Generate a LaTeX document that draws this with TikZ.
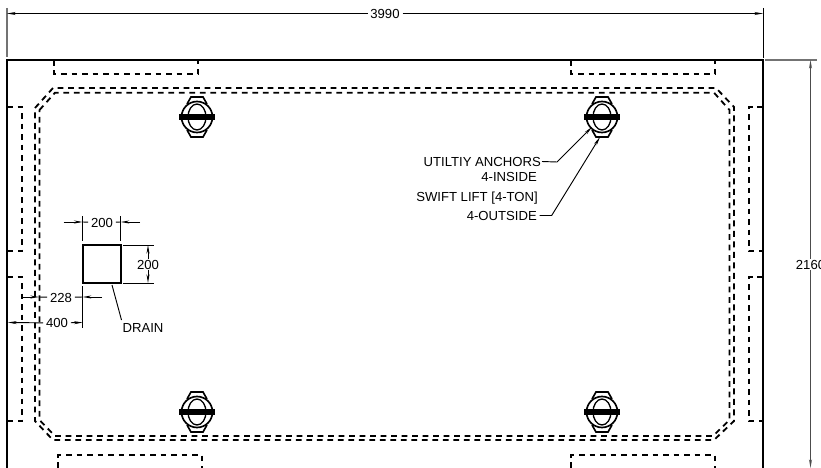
\documentclass[tikz,border=0pt]{standalone}
\usepackage{fontspec}
\setmainfont{Liberation Sans}
\usetikzlibrary{arrows.meta,positioning}
\tikzset{
  wall/.style={line width=0.65mm},
  hidden/.style={line width=0.55mm, dash pattern=on 1.75mm off 1.4mm},
  dimline/.style={line width=0.28mm},
  extline/.style={line width=0.28mm},
  farline/.style={line width=0.4mm, black!55},
  dimarrow/.style={line width=0.28mm, -{Stealth[length=2.6mm,width=0.9mm]}},
  label/.style={font=\fontsize{11.2}{13}\selectfont, inner sep=0pt},
  dimlabel/.style={label, fill=white, inner xsep=0.8mm, inner ysep=0.3mm}
}
\begin{document}
\begin{tikzpicture}[x=0.3mm, y=-0.3mm]
	\useasboundingbox (0,0) rectangle (821,468);

	% slab edge and pockets
	\draw[wall] (7,468) -- (7,60) -- (763,60) -- (763,468);
	\draw[hidden] (54,60) -- (54,74) -- (198,74) -- (198,60);
	\draw[hidden] (571,60) -- (571,74) -- (715,74) -- (715,60);
	\draw[hidden] (58,468) -- (58,455) -- (202,455) -- (202,468);
	\draw[hidden] (571,468) -- (571,455) -- (715,455) -- (715,468);
	\draw[hidden] (7,107) -- (22,107) -- (22,251) -- (7,251);
	\draw[hidden] (7,277) -- (22,277) -- (22,421) -- (7,421);
	\draw[hidden] (763,107) -- (749,107) -- (749,251) -- (763,251);
	\draw[hidden] (763,277) -- (749,277) -- (749,421) -- (763,421);

	% double line inside
	\draw[hidden] (35,108) -- (53,88) -- (716,88) -- (734,107) -- (734,421) -- (714,440) -- (53,440) -- (35,421) -- cycle;
	\draw[hidden] (39.5,110) -- (55,92.7) -- (714,92.7) -- (729.5,110) -- (729.5,420) -- (713,436) -- (55,436) -- (39.5,420) -- cycle;

	% anchors
	\foreach \px/\py in {197/117, 602/117, 197/412, 602/412} {
		\begin{scope}[shift={(\px,\py)}]
			\draw[line width=0.5mm] (0,0) circle [radius=15.5];
			\draw[line width=0.4mm] (0,0) ellipse [x radius=9, y radius=13];
			\draw[line width=0.5mm] (-10,-13) -- (-6,-20) -- (6,-20) -- (10,-13);
			\draw[line width=0.5mm] (-10,13) -- (-6,20) -- (6,20) -- (10,13);
			\draw[line width=1.6mm] (-18,0) -- (18,0);
		\end{scope}
	}

	% overall dimensions
	\draw[farline] (7,8) -- (7,57);
	\draw[extline] (763,8) -- (763,58);
	\draw[farline] (765,60) -- (817,60);
	\node[dimlabel] (width) at (385,14) {3990};
	\coordinate (widthl) at (7,13.5);
	\coordinate (widthr) at (763,13.5);
	\draw[dimarrow] (width.west |- widthl) -- (widthl);
	\draw[dimarrow] (width.east |- widthr) -- (widthr);
	\node[dimlabel, inner xsep=0mm] (height) at (810.5,264.5) {2160};
	\coordinate (heightt) at (810.5,60);
	\coordinate (heightb) at (810.5,468);
	\draw[dimarrow, black!70] (height) -- (heightt);
	\draw[dimarrow, black!70] (height) -- (heightb);

	% drain
	\node[draw, line width=0.6mm, minimum size=11.4mm, inner sep=0pt] (drain) at (101.7,264) {};
	\draw[extline] (82.7,216) -- (82.7,241);
	\draw[extline] (120.7,216) -- (120.7,241);
	\draw[extline] (123,245) -- (154,245);
	\draw[extline] (123,283) -- (154,283);
	\draw[extline] (82.7,286) -- (82.7,328);

	\node[dimlabel] (drainw) at (102,222.5) {200};
	\coordinate (drainwl) at (63.5,222);
	\coordinate (drainwr) at (140,222);
	\draw[dimarrow] (drainwl) -- (82.7,222);
	\draw[dimline] (82.7,222) -- (drainw);
	\draw[dimarrow] (drainwr) -- (120.7,222);
	\draw[dimline] (120.7,222) -- (drainw);

	\node[dimlabel] (drainh) at (148,264.5) {200};
	\coordinate (drainht) at (148,245);
	\coordinate (drainhb) at (148,283);
	\draw[dimarrow] (drainh) -- (drainht);
	\draw[dimarrow] (drainh) -- (drainhb);

	\node[dimlabel] (inner) at (61,297.5) {228};
	\coordinate (innerl) at (21,297);
	\coordinate (innerr) at (102,297);
	\draw[dimarrow] (innerl) -- (39,297);
	\draw[dimline] (39,297) -- (inner);
	\draw[dimarrow] (innerr) -- (82.7,297);
	\draw[dimline] (82.7,297) -- (inner);

	\node[dimlabel] (outer) at (57,323) {400};
	\coordinate (outerl) at (8,322.5);
	\coordinate (outerr) at (82.7,322.5);
	\draw[dimarrow] (outer) -- (outerl);
	\draw[dimarrow] (outer) -- (outerr);

	% labels
	\node[label] (drainlabel) at (143,327.5) {DRAIN};
	\coordinate (drainpt) at (112,285);
	\draw[dimline] (drainpt) -- (121.5,320);

	\node[label, anchor=east] (utility) at (541,161.5) {UTILTIY ANCHORS};
	\node[label, anchor=east] (inside) at (537,176.5) {4-INSIDE};
	\node[label, anchor=east] (swift) at (538,198.5) {SWIFT LIFT [4-TON]};
	\node[label, anchor=east] (outside) at (537,215.5) {4-OUTSIDE};
	\coordinate (utilitypt) at (592,127);
	\coordinate (swiftpt) at (600,137);
	\draw[dimarrow] ([xshift=0.3mm]utility.east) -- ++(15,0.5) -- (utilitypt);
	\draw[dimarrow] ([xshift=0.8mm]outside.east) -- ++(12,0) -- (swiftpt);
\end{tikzpicture}
\end{document}
